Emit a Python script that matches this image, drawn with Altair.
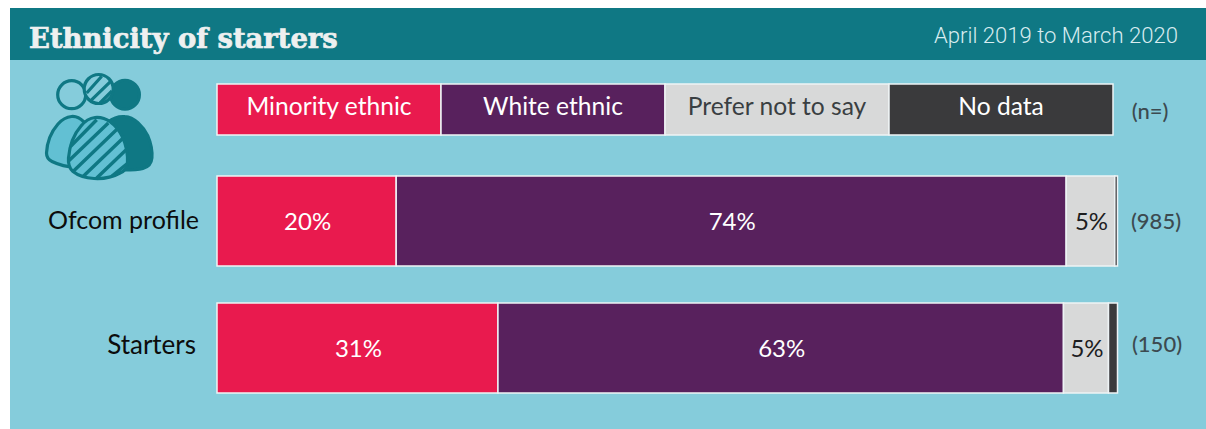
import altair as alt
import pandas as pd

# Survey shares per row, in percent
categories = ["Minority ethnic", "White ethnic", "Prefer not to say", "No data"]
colours = ["#e91a4e", "#58215d", "#d8d9d9", "#3a3a3c"]
legend_text = ["#ffffff", "#ffffff", "#3a3f42", "#ffffff"]
rows = ["Ofcom profile", "Starters"]
ofcom_values = [19.9, 74.4, 5.4, 0.3]
starter_values = [31.2, 62.8, 5.0, 1.0]
counts = ["(985)", "(150)"]
count_header = "(n=)"
title_text = "Ethnicity of starters"
period_text = "April 2019 to March 2020"

TEAL = "#0f7884"
PANEL = "#85ccdb"
BODY = "#62c0d3"
EDGE = "#eef3f5"
FONT = "Lato"

records = []
for slot, (row, values) in enumerate(zip(rows, [ofcom_values, starter_values]), 1):
    start = 0.0
    for cat, val in zip(categories, values):
        records.append({"row": row, "slot": slot, "category": cat, "value": val,
                        "start": start, "end": start + val,
                        "mid": start + val / 2})
        start += val
segments = pd.DataFrame(records)
labelled = segments[segments["value"] >= 3]

key = pd.DataFrame({"category": categories, "i": range(4),
                    "j": range(1, 5), "c": [k + 0.5 for k in range(4)],
                    "slot": [0] * 4, "ink": legend_text})
row_frame = pd.DataFrame({"row": rows, "slot": [1, 2], "count": counts})

x_share = alt.Scale(domain=[0, 100], range=[217, 1117.5])
x_key = alt.Scale(domain=[0, 4], range=[217, 1113])
# Slot 0 is the colour key, slots 1 and 2 are the data rows
y_row = alt.Scale(domain=[0, 1, 2], range=[109.5, 221, 348], padding=0)
y_slot = alt.Y("slot:Q", scale=y_row, axis=None)
colour = alt.Color("category:N", legend=None,
                   scale=alt.Scale(domain=categories, range=colours))


def band(x0, x1, y0, y1, fill):
    return alt.Chart(pd.DataFrame({"a": [0]})).mark_rect(fill=fill).encode(
        x=alt.value(x0), x2=alt.value(x1), y=alt.value(y0), y2=alt.value(y1))


def glyph(path, **style):
    # A custom symbol at size 4 draws its path at one unit per pixel
    return alt.Chart(pd.DataFrame({"a": [0]})).mark_point(
        shape=path, size=4, filled=False, opacity=1, **style
    ).encode(x=alt.value(0), y=alt.value(0))


def circle(cx, cy, r):
    return (f"M{cx - r},{cy}A{r},{r} 0 1,1 {cx + r},{cy}"
            f"A{r},{r} 0 1,1 {cx - r},{cy}Z")


panel = band(10, 1206, 8, 429, PANEL)
header = band(10, 1206, 8, 60, TEAL)

title = alt.Chart(pd.DataFrame({"t": [title_text]})).mark_text(
    font="DejaVu Serif", fontWeight="bold", fontSize=27.4, color="#eef0f0",
    stroke="#eef0f0", strokeWidth=0.7, align="left", baseline="middle"
).encode(x=alt.value(29), y=alt.value(40), text="t:N")

period = alt.Chart(pd.DataFrame({"t": [period_text]})).mark_text(
    font="Roboto", fontWeight=300, fontSize=22.1, color="#d8ecf0",
    align="right", baseline="middle"
).encode(x=alt.value(1178), y=alt.value(36), text="t:N")

# People icon: three heads and overlapping bodies, the centre one hatched
right_body = ("M108,122C113,118 119,116 125,116.5C134,117 143,126 148,136"
              "C151,143 152.5,151 152,158C151.5,164 149,167 143,168.5"
              "C137,170 131,170 124,170L100,170Z")
left_body = ("M71.5,116.5C76,116 80,118 84,122L78,168C68,167 59,165 52,161.5"
             "C48,159.5 46.5,157 46.5,153C47,143 51,132 58,124"
             "C62,119.5 66,117 71.5,116.5Z")
middle_body = ("M95,117.5C106,116.5 116,124 122,136C126,144 128,154 127.5,164"
               "C127,168.5 124.5,171 120,173C112,177.5 102,179 94,178.5"
               "C86,178 78,175.5 73,171.5C69.5,168.5 68,164 68.5,158"
               "C69.5,146 74,134 81,126C85,121 90,118 95,117.5Z")
body_hatch = ("M70.7,146.3L96.7,119.7M68.3,161.3L108.3,123M73.3,171.3L118.3,128"
              "M83.3,176.3L125,136.3M96.7,178L128,148M111.7,176.3L128,163")
head_hatch = "M86.7,93L101.7,76.3M90,101.3L110.7,81.3M100,103L112,91"

icon = [
    glyph(circle(125, 94.7, 14.5), fill=TEAL, stroke=TEAL, strokeWidth=3),
    glyph(right_body, fill=TEAL, stroke=TEAL, strokeWidth=3),
    glyph(circle(71.7, 94.7, 14), fill=PANEL, stroke=TEAL, strokeWidth=3.2),
    glyph(circle(98.7, 89, 14.5), fill=PANEL, stroke=TEAL, strokeWidth=3.2),
    glyph(head_hatch, stroke=TEAL, strokeWidth=3.2),
    glyph(left_body, fill=BODY, stroke=TEAL, strokeWidth=3.2),
    glyph(middle_body, fill=BODY, stroke=TEAL, strokeWidth=3.2),
    glyph(body_hatch, stroke=TEAL, strokeWidth=3.4),
]

key_bars = alt.Chart(key).mark_bar(
    size=51, stroke=EDGE, strokeWidth=1.5, orient="horizontal"
).encode(
    x=alt.X("i:Q", scale=x_key, axis=None),
    x2="j:Q",
    y=y_slot,
    color=colour,
)

key_text = alt.Chart(key).mark_text(
    font=FONT, fontSize=24.6, baseline="middle", dy=-2
).encode(
    x=alt.X("c:Q", scale=x_key, axis=None),
    y=y_slot,
    text="category:N",
    color=alt.Color("ink:N", scale=None, legend=None),
)

share_bars = alt.Chart(segments).mark_bar(
    size=90, stroke=EDGE, strokeWidth=1.5, orient="horizontal"
).encode(
    x=alt.X("start:Q", scale=x_share, axis=None),
    x2="end:Q",
    y=y_slot,
    color=colour,
)

share_text = alt.Chart(labelled).transform_calculate(
    pct="format(datum.value, '.0f') + '%'"
).mark_text(
    font=FONT, fontSize=24, baseline="middle", dx=1, dy=2
).encode(
    x=alt.X("mid:Q", scale=x_share, axis=None),
    y=y_slot,
    text="pct:N",
    color=alt.condition(alt.datum.category == "Prefer not to say",
                        alt.value("#1d1d1f"), alt.value("#ffffff")),
)


def row_name(frame, right, size, nudge):
    return alt.Chart(frame).mark_text(
        font=FONT, fontSize=size, align="right", baseline="middle",
        color="#0c0c0c", dy=nudge
    ).encode(x=alt.value(right), y=y_slot, text="row:N")


def count_label(frame, centre, nudge):
    return alt.Chart(frame).mark_text(
        font=FONT, fontSize=22, fontWeight=500, align="center",
        baseline="middle", color="#3c4a50", dy=nudge
    ).encode(x=alt.value(centre), y=y_slot, text="count:N")


first_row = row_frame[row_frame["row"] == rows[0]]
second_row = row_frame[row_frame["row"] == rows[1]]

count_head = alt.Chart(pd.DataFrame({"t": [count_header]})).mark_text(
    font=FONT, fontSize=22, fontWeight=500, align="center", baseline="middle",
    color="#3c4a50"
).encode(x=alt.value(1150), y=alt.value(112), text="t:N")

chart = alt.layer(
    panel, header, title, period, *icon,
    key_bars, key_text, share_bars, share_text,
    row_name(first_row, 199, 25, 0), row_name(second_row, 196, 26, -2),
    count_label(first_row, 1156, 1), count_label(second_row, 1157, -3),
    count_head,
).resolve_scale(
    x="independent", color="independent"
).properties(
    width=1206, height=429, padding=0, autosize="none", background="#ffffff"
).configure_view(stroke=None)

chart.save("out.html", embed_options={"renderer": "svg", "actions": False})
